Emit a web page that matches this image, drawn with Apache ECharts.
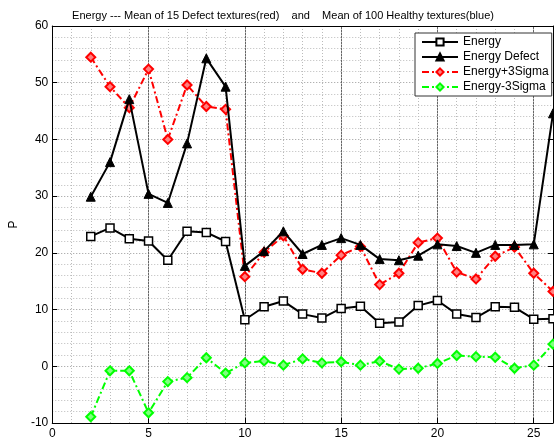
<!DOCTYPE html>
<html><head><meta charset="utf-8">
<script src="https://cdn.jsdelivr.net/npm/echarts@6/dist/echarts.min.js"></script>
<style>html,body{margin:0;padding:0;background:#fff}#c{width:554px;height:441px}</style>
</head><body><div id="c"></div>
<script>
const xs = [2,3,4,5,6,7,8,9,10,11,12,13,14,15,16,17,18,19,20,21,22,23,24,25,26];
const energy = [22.9,24.4,22.5,22.1,18.7,23.8,23.6,22.0,8.2,10.5,11.5,9.2,8.5,10.2,10.6,7.6,7.8,10.7,11.6,9.2,8.6,10.5,10.4,8.3,8.4];
const energyDefect = [29.9,36.0,47.1,30.4,28.8,39.3,54.3,49.3,17.7,20.3,23.8,19.8,21.4,22.6,21.4,18.9,18.7,19.5,21.5,21.2,20.0,21.4,21.4,21.5,44.6];
const energyPlus = [54.5,49.3,45.6,52.4,40.0,49.6,45.8,45.3,15.8,20.1,23.0,17.1,16.4,19.6,21.1,14.4,16.4,21.8,22.6,16.6,15.4,19.4,21.0,16.4,13.2];
const energyMinus = [-8.9,-0.8,-0.8,-8.2,-2.7,-2.0,1.5,-1.2,0.6,0.95,0.2,1.3,0.6,0.8,0.2,0.9,-0.5,-0.35,0.5,1.9,1.7,1.6,-0.35,0.2,3.9];
const seriesNames = ['Energy','Energy Defect','Energy+3Sigma','Energy-3Sigma'];
const titleText = 'Energy --- Mean of 15 Defect textures(red)    and    Mean of 100 Healthy textures(blue)';

const pairs = arr => xs.map((x,i)=>[x,arr[i]]);
const font = 'Liberation Sans, Arial, sans-serif';
const chart = echarts.init(document.getElementById('c'), null, {renderer:'canvas'});
const dashDot = [7,3,2,3];
chart.setOption({
  animation:false,
  backgroundColor:'#fff',
  title:{text:titleText,left:278,textAlign:'center',top:5,textStyle:{fontFamily:font,fontSize:11,fontWeight:'normal',color:'#000'}},
  grid:{left:47,right:1,top:26,bottom:18,show:false},
  legend:{
    orient:'vertical',left:415,top:33,
    backgroundColor:'#fff',borderColor:'#333',borderWidth:1,
    padding:[3,3,3,6],itemGap:3,itemWidth:36,itemHeight:9,
    textStyle:{fontFamily:font,fontSize:12,color:'#000'},
    data:seriesNames
  },
  xAxis:[{
    type:'value',min:0,max:26,interval:5,
    axisLine:{show:true,onZero:false,lineStyle:{color:'#000',width:1}},
    axisTick:{show:true,inside:true,length:5,lineStyle:{color:'#000'}},
    axisLabel:{fontFamily:font,fontSize:12,color:'#000',margin:5,showMaxLabel:false},
    splitLine:{show:true,lineStyle:{color:'#666',width:1}}
  },{
    type:'value',min:0,max:26,interval:1,position:'top',
    axisLine:{show:true,onZero:false,lineStyle:{color:'#000',width:1}},
    axisTick:{show:false},axisLabel:{show:false},
    splitLine:{show:true,lineStyle:{color:'#bbb',width:1,type:[1,2]}}
  }],
  yAxis:[{
    type:'value',min:-10,max:60,interval:10,
    axisLine:{show:true,onZero:false,lineStyle:{color:'#000',width:1}},
    axisTick:{show:true,inside:true,length:5,lineStyle:{color:'#000'}},
    axisLabel:{fontFamily:font,fontSize:12,color:'#000',margin:4},
    splitLine:{show:true,lineStyle:{color:'#999',width:1,type:[1,2]}},
    minorTick:{show:false,splitNumber:5},
    minorSplitLine:{show:true,lineStyle:{color:'#bbb',width:1,type:[1,2]}},
    name:'P',nameLocation:'middle',nameGap:30,nameRotate:90,
    nameTextStyle:{fontFamily:font,fontSize:12,color:'#000'}
  },{
    type:'value',min:-10,max:60,interval:10,position:'right',
    axisLine:{show:true,onZero:false,lineStyle:{color:'#000',width:1}},
    axisTick:{show:true,inside:true,length:5,lineStyle:{color:'#000'}},
    axisLabel:{show:false},splitLine:{show:false}
  }],
  series:[
    {name:seriesNames[0],type:'line',data:pairs(energy),symbol:'rect',symbolSize:8,
     lineStyle:{color:'#000',width:2},itemStyle:{color:'#fff',borderColor:'#000',borderWidth:1.5},
     emphasis:{disabled:true},z:3},
    {name:seriesNames[1],type:'line',data:pairs(energyDefect),symbol:'triangle',symbolSize:9,
     lineStyle:{color:'#000',width:2},itemStyle:{color:'#000',borderColor:'#000',borderWidth:1},
     emphasis:{disabled:true},z:4},
    {name:seriesNames[2],type:'line',data:pairs(energyPlus),symbol:'diamond',symbolSize:9,
     lineStyle:{color:'#ff0000',width:2,type:dashDot},itemStyle:{color:'#ff8080',borderColor:'#ff0000',borderWidth:2},
     emphasis:{disabled:true},z:2},
    {name:seriesNames[3],type:'line',data:pairs(energyMinus),symbol:'diamond',symbolSize:9,
     lineStyle:{color:'#00ff00',width:2,type:dashDot},itemStyle:{color:'#80ff80',borderColor:'#00ff00',borderWidth:2},
     emphasis:{disabled:true},z:2}
  ]
});
</script></body></html>
